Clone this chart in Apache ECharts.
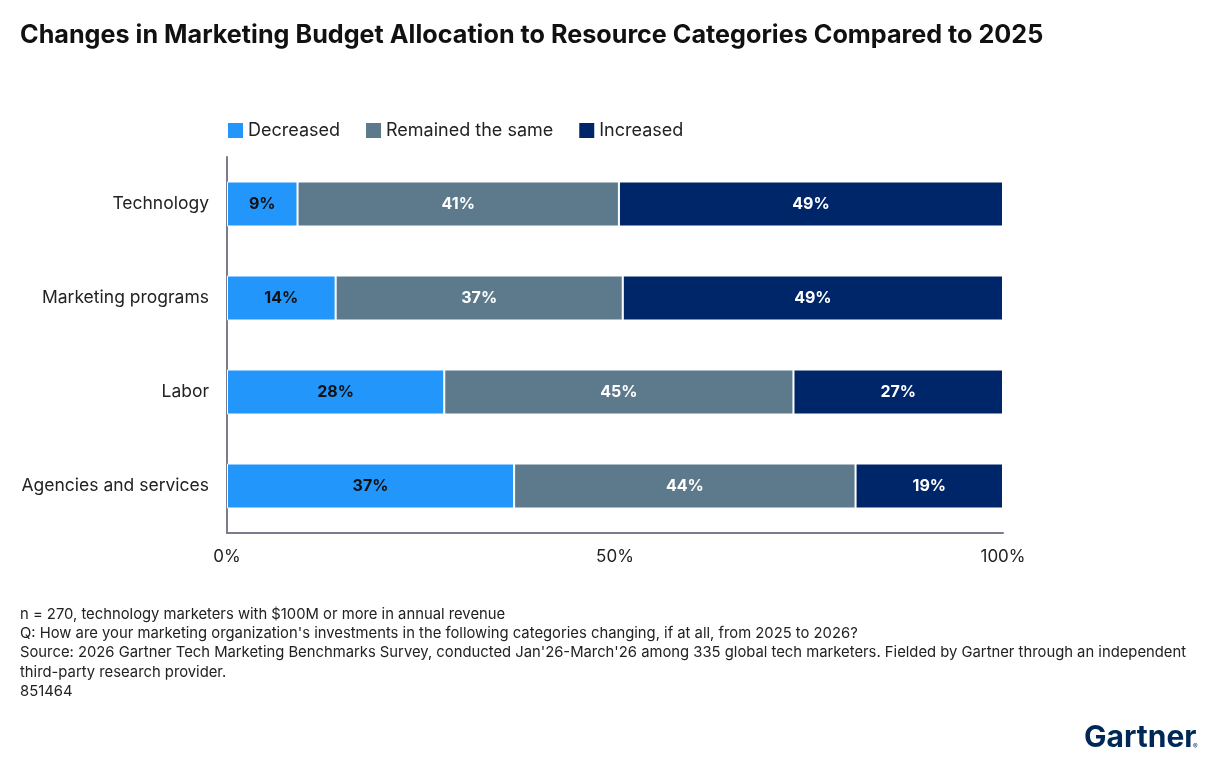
<!DOCTYPE html>
<html><head><meta charset="utf-8">
<script src="https://cdn.jsdelivr.net/npm/echarts@6/dist/echarts.min.js"></script>
<style>html,body{margin:0;padding:0;background:#fff}#c{width:1222px;height:766px}</style>
</head><body><div id="c"></div>
<script>
const categories = ['Technology', 'Marketing programs', 'Labor', 'Agencies and services'];
const seriesNames = ['Decreased', 'Remained the same', 'Increased'];
const decreased = [9, 14, 28, 37];
const remained = [41, 37, 45, 44];
const increased = [49, 49, 27, 19];
const xTickLabels = ['0%', '50%', '100%'];
const footnotes = [
  'n = 270, technology marketers with $100M or more in annual revenue',
  "Q: How are your marketing organization's investments in the following categories changing, if at all, from 2025 to 2026?",
  "Source: 2026 Gartner Tech Marketing Benchmarks Survey, conducted Jan'26-March'26 among 335 global tech marketers. Fielded by Gartner through an independent",
  'third-party research provider.',
  '851464'
];

const colors = ['#2396FB', '#5C7A8B', '#00266A'];
const labelColors = ['#111', '#fff', '#fff'];
const FONT = 'Inter, Lato, sans-serif';
const raw = [decreased, remained, increased];
const totals = categories.map((_, i) => raw.reduce((s, a) => s + a[i], 0));

const chart = echarts.init(document.getElementById('c'), null, {renderer: 'canvas'});
chart.setOption({
  animation: false,
  textStyle: {fontFamily: FONT},
  title: {
    text: 'Changes in Marketing Budget Allocation to Resource Categories Compared to 2025',
    left: 15, top: 18,
    textStyle: {fontFamily: FONT, fontSize: 25.2, fontWeight: 'bold', color: '#111'}
  },
  legend: {
    left: 221, top: 116, itemWidth: 17, itemHeight: 17, itemGap: 24,
    icon: 'rect',
    textStyle: {fontFamily: FONT, fontSize: 18, color: '#222', padding: [0, 0, 0, -1]},
    data: seriesNames
  },
  grid: {left: 227, right: 219, top: 157, bottom: 233, containLabel: false},
  xAxis: {
    type: 'value', min: 0, max: 100, interval: 50,
    axisLine: {show: true, lineStyle: {color: '#7b7b8c', width: 2}},
    axisTick: {show: false},
    splitLine: {show: false},
    axisLabel: {
      fontFamily: FONT, fontSize: 17, color: '#222', margin: 15,
      formatter: v => xTickLabels[v / 50]
    }
  },
  yAxis: {
    type: 'category', inverse: true, data: categories,
    axisLine: {show: true, lineStyle: {color: '#7b7b8c', width: 2}},
    axisTick: {show: false},
    axisLabel: {fontFamily: FONT, fontSize: 17.5, color: '#222', margin: 18}
  },
  series: seriesNames.map((name, si) => ({
    name, type: 'bar', stack: 'total', barWidth: 45,
    itemStyle: {color: colors[si], borderColor: '#fff', borderWidth: 1},
    label: {
      show: true, position: 'inside', color: labelColors[si],
      fontFamily: FONT, fontSize: 16, fontWeight: 'bold',
      formatter: p => raw[si][p.dataIndex] + '%'
    },
    data: raw[si].map((v, i) => v / totals[i] * 100)
  })),
  graphic: [
    ...footnotes.map((t, i) => ({
      type: 'text', left: 20, top: 607 + i * 19.25,
      style: {text: t, fontFamily: FONT, fontSize: 14.8, fill: '#222'}
    })),
    {type: 'text', left: 1084, top: 723,
     style: {text: 'Gartner', fontFamily: FONT, fontSize: 30, fontWeight: 'bold', fill: '#002856'}},
    {type: 'text', left: 1193, top: 743,
     style: {text: '®', fontFamily: FONT, fontSize: 7, fill: '#002856'}}
  ]
});
</script></body></html>
